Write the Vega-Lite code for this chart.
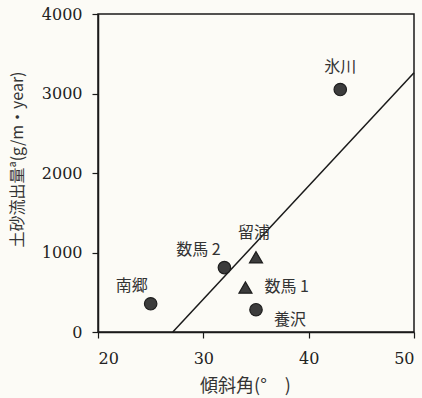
{
  "$schema": "https://vega.github.io/schema/vega-lite/v6.json",
  "autosize": "none",
  "width": 316,
  "height": 318,
  "padding": {"left": 98, "top": 14, "right": 8, "bottom": 66},
  "background": "#fcfbf6",
  "config": {
    "view": {"stroke": "#1a1a1a", "strokeWidth": 1.5},
    "axis": {
      "grid": false,
      "domainColor": "#1a1a1a",
      "domainWidth": 1.5,
      "tickColor": "#1a1a1a",
      "tickSize": 6,
      "tickWidth": 1.2,
      "labelFont": "DejaVu Serif",
      "labelFontSize": 16,
      "labelColor": "#222",
      "titleFont": "Noto Sans CJK JP",
      "titleFontWeight": "normal",
      "titleColor": "#333"
    }
  },
  "datasets": {
    "sites": [
      {"slope": 43, "sediment": 3050, "site": "氷川", "kind": "circle"},
      {"slope": 25, "sediment": 355, "site": "南郷", "kind": "circle"},
      {"slope": 32, "sediment": 810, "site": "数馬 2", "kind": "circle"},
      {"slope": 35, "sediment": 940, "site": "留浦", "kind": "triangle"},
      {"slope": 34, "sediment": 560, "site": "数馬 1", "kind": "triangle"},
      {"slope": 35, "sediment": 280, "site": "養沢", "kind": "circle"}
    ],
    "fit": [
      {"slope": 27.1, "sediment": 0},
      {"slope": 50, "sediment": 3260}
    ]
  },
  "encoding": {
    "x": {
      "field": "slope", "type": "quantitative",
      "scale": {"domain": [20, 50], "nice": false},
      "axis": {
        "values": [20, 30, 40, 50],
        "format": "d",
        "labelPadding": 12,
        "title": "傾斜角(°　)",
        "titleFontSize": 18,
        "titleX": 147,
        "titleY": 59,
        "titleBaseline": "alphabetic",
        "titleAnchor": null
      }
    },
    "y": {
      "field": "sediment", "type": "quantitative",
      "scale": {"domain": [0, 4000], "nice": false},
      "axis": {
        "values": [0, 1000, 2000, 3000, 4000],
        "format": "d",
        "labelPadding": 10,
        "title": "土砂流出量ª(g/m・year)",
        "titleFontSize": 16,
        "titleAngle": -90,
        "titleX": -81,
        "titleY": 145,
        "titleAlign": "center",
        "titleBaseline": "middle"
      }
    }
  },
  "layer": [
    {
      "data": {"name": "fit"},
      "mark": {"type": "line", "color": "#1a1a1a", "strokeWidth": 1.5}
    },
    {
      "data": {"name": "sites"},
      "mark": {"type": "point", "filled": true, "opacity": 1, "stroke": "#1e1e1e", "strokeWidth": 1.2},
      "encoding": {
        "shape": {
          "field": "kind", "type": "nominal",
          "scale": {"domain": ["circle", "triangle"], "range": ["circle", "triangle-up"]},
          "legend": null
        },
        "size": {
          "field": "kind", "type": "nominal",
          "scale": {"domain": ["circle", "triangle"], "range": [155, 170]},
          "legend": null
        },
        "color": {"value": "#3c3c3c"}
      }
    },
    {
      "data": {"name": "sites"},
      "transform": [{"filter": "datum.site === '氷川'"}],
      "mark": {"type": "text", "font": "Noto Sans CJK JP", "fontSize": 16, "color": "#333", "dx": 0, "dy": -23},
      "encoding": {"text": {"field": "site"}}
    },
    {
      "data": {"name": "sites"},
      "transform": [{"filter": "datum.site === '南郷'"}],
      "mark": {"type": "text", "font": "Noto Sans CJK JP", "fontSize": 16, "color": "#333", "dx": -19, "dy": -18},
      "encoding": {"text": {"field": "site"}}
    },
    {
      "data": {"name": "sites"},
      "transform": [{"filter": "datum.site === '数馬 2'"}],
      "mark": {"type": "text", "font": "Noto Sans CJK JP", "fontSize": 16, "color": "#333", "dx": -26, "dy": -18},
      "encoding": {"text": {"field": "site"}}
    },
    {
      "data": {"name": "sites"},
      "transform": [{"filter": "datum.site === '留浦'"}],
      "mark": {"type": "text", "font": "Noto Sans CJK JP", "fontSize": 16, "color": "#333", "dx": -2, "dy": -24},
      "encoding": {"text": {"field": "site"}}
    },
    {
      "data": {"name": "sites"},
      "transform": [{"filter": "datum.site === '数馬 1'"}],
      "mark": {"type": "text", "font": "Noto Sans CJK JP", "fontSize": 16, "color": "#333", "align": "left", "dx": 19, "dy": 0},
      "encoding": {"text": {"field": "site"}}
    },
    {
      "data": {"name": "sites"},
      "transform": [{"filter": "datum.site === '養沢'"}],
      "mark": {"type": "text", "font": "Noto Sans CJK JP", "fontSize": 16, "color": "#333", "align": "left", "dx": 18, "dy": 10},
      "encoding": {"text": {"field": "site"}}
    }
  ]
}
